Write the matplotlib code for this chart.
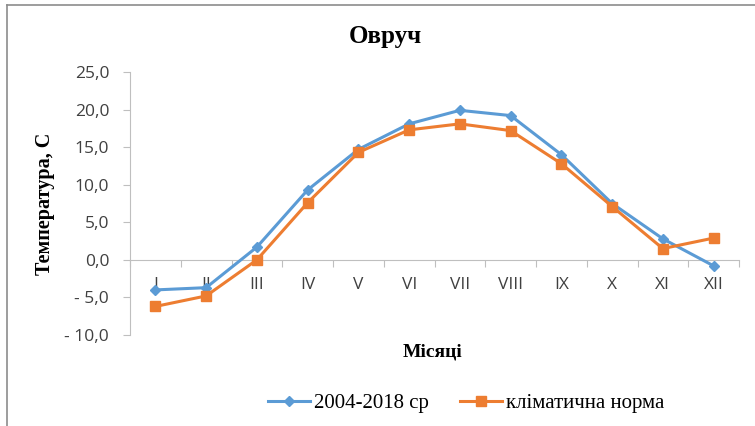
import matplotlib.pyplot as plt
from matplotlib.lines import Line2D
from matplotlib.ticker import FuncFormatter

months = ["I", "II", "III", "IV", "V", "VI", "VII", "VIII", "IX", "X", "XI", "XII"]
avg_2004_2018 = [-4.0, -3.7, 1.7, 9.3, 14.7, 18.1, 19.9, 19.2, 14.0, 7.5, 2.8, -0.8]
climate_norm = [-6.2, -4.8, 0.0, 7.6, 14.3, 17.3, 18.1, 17.2, 12.8, 7.1, 1.5, 2.9]
yticks = [-10, -5, 0, 5, 10, 15, 20, 25]

blue = "#5B9BD5"
orange = "#ED7D31"
axis_gray = "#BFBFBF"
serif = "Liberation Serif"
sans = "Open Sans"

fig = plt.figure(figsize=(7.55, 4.26), dpi=100)
ax = fig.add_axes([130 / 755, 1 - 335 / 426, 609 / 755, 263 / 426])

x = list(range(len(months)))
ax.plot(x, avg_2004_2018, color=blue, lw=2.2, marker="D", ms=5.5,
        label="2004-2018 ср", zorder=3)
ax.plot(x, climate_norm, color=orange, lw=2.2, marker="s", ms=7,
        label="кліматична норма", zorder=3)

ax.set_xlim(-0.5, 11.5)
ax.set_ylim(-10, 25)

# spines like Excel: category axis crosses at zero
for s in ["top", "right"]:
    ax.spines[s].set_visible(False)
ax.spines["bottom"].set_position(("data", 0))
ax.spines["bottom"].set_color(axis_gray)
ax.spines["left"].set_color(axis_gray)

ax.set_yticks(yticks)
ax.yaxis.set_major_formatter(FuncFormatter(
    lambda v, p: f"{v:.1f}".replace(".", ",") if v >= 0
    else "- " + f"{-v:.1f}".replace(".", ",")))
ax.tick_params(axis="y", colors=axis_gray, labelcolor="#404040",
               labelsize=12.5, length=5, pad=10)
for lbl in ax.get_yticklabels():
    lbl.set_family(sans)

# boundary ticks on the zero line, labels at category centres
ax.set_xticks([i - 0.5 for i in range(13)])
ax.set_xticklabels([])
ax.set_xticks(x, minor=True)
ax.set_xticklabels(months, minor=True, fontsize=12.5, color="#404040", family=sans)
ax.tick_params(axis="x", which="major", colors=axis_gray, length=5, direction="out")
ax.tick_params(axis="x", which="minor", length=0, pad=12)

fig.text(385 / 755, 1 - 36 / 426, "Овруч", ha="center", va="center",
         fontsize=18, fontweight="bold", family=serif)
fig.text(45 / 755, 1 - 204 / 426, "Температура, С", ha="center", va="center",
         rotation=90, fontsize=14.5, fontweight="bold", family=serif)
fig.text(433 / 755, 1 - 352 / 426, "Місяці", ha="center", va="center",
         fontsize=14, fontweight="bold", family=serif)

fig.legend(loc="center", bbox_to_anchor=(466 / 755, 1 - 403 / 426), ncol=2,
           frameon=False, prop={"family": serif, "size": 15},
           handlelength=2.0, columnspacing=1.5, handletextpad=0.2)

# chart frame (left and top border)
fig.add_artist(Line2D([7 / 755, 7 / 755], [0, 1 - 5 / 426], color="#8C8C8C", lw=1.2))
fig.add_artist(Line2D([7 / 755, 1], [1 - 5 / 426, 1 - 5 / 426], color="#8C8C8C", lw=1.2))

fig.savefig("out.png", dpi=100)
